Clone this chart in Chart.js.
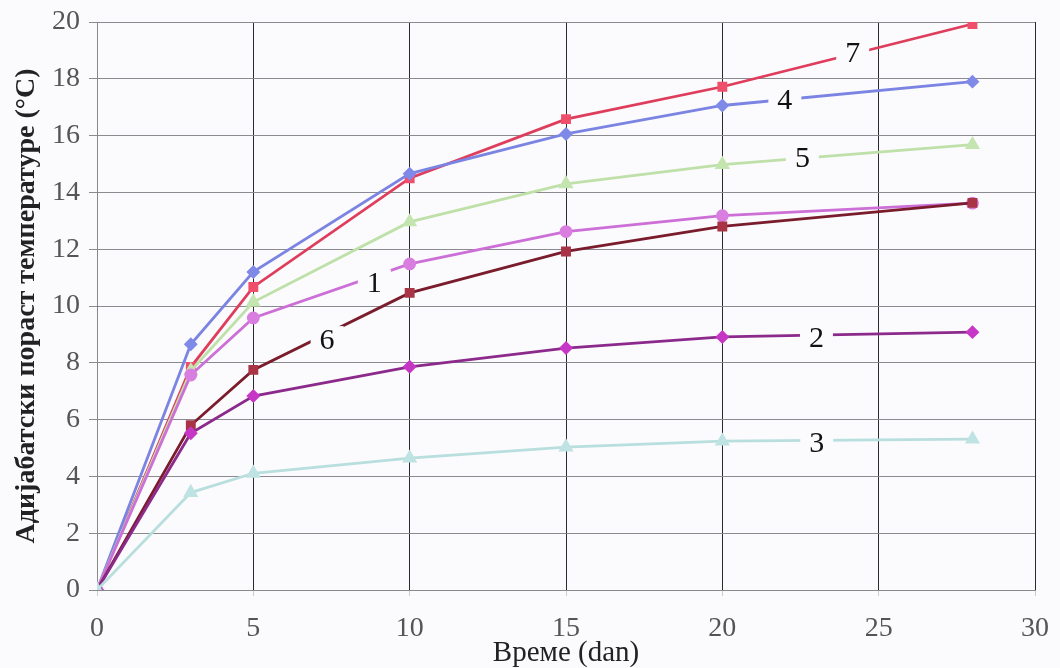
<!DOCTYPE html>
<html>
<head>
<meta charset="utf-8">
<script src="https://cdn.jsdelivr.net/npm/chart.js@4/dist/chart.umd.min.js"></script>
<style>
  html, body { margin: 0; padding: 0; background: #fbfbfd; }
  #wrap { width: 1060px; height: 668px; }
</style>
</head>
<body>
<div id="wrap"><canvas id="chart" width="1060" height="668"></canvas></div>
<script>
// x values (days) shared by every curve
const DAYS = [0, 3, 5, 10, 15, 20, 28];

// adiabatic temperature rise per mix, °C
const MIX_1 = [0, 7.57, 9.58, 11.48, 12.62, 13.18, 13.62];
const MIX_2 = [0, 5.52, 6.83, 7.86, 8.52, 8.91, 9.08];
const MIX_3 = [0, 3.43, 4.11, 4.64, 5.03, 5.24, 5.31];
const MIX_4 = [0, 8.65, 11.2, 14.66, 16.06, 17.06, 17.9];
const MIX_5 = [0, 7.72, 10.14, 12.96, 14.3, 14.98, 15.68];
const MIX_6 = [0, 5.8, 7.75, 10.46, 11.92, 12.8, 13.63];
const MIX_7 = [0, 7.85, 10.67, 14.5, 16.58, 17.72, 19.93];

const X_TICKS = [0, 5, 10, 15, 20, 25, 30];
const Y_TICKS = [0, 2, 4, 6, 8, 10, 12, 14, 16, 18, 20];

// inline curve labels: [text, day, value]
const CURVE_LABELS = [
  ['7', 24.17, 18.91],
  ['4', 22.0, 17.25],
  ['5', 22.56, 15.2],
  ['1', 8.87, 10.8],
  ['6', 7.36, 8.8],
  ['2', 23.01, 8.87],
  ['3', 23.02, 5.17]
];

const SERIF = '"Liberation Serif", "DejaVu Serif", serif';

const pts = vals => DAYS.map((d, i) => ({ x: d, y: vals[i] }));

function ds(label, vals, line, fill, style, r) {
  return {
    label, data: pts(vals),
    borderColor: line, backgroundColor: fill,
    pointBackgroundColor: fill, pointBorderColor: fill,
    pointStyle: style, pointRadius: r, pointHoverRadius: r,
    borderWidth: 2.8, tension: 0, showLine: true
  };
}

const datasets = [
  ds('3', MIX_3, '#b9dede', '#bfe3e3', 'triangle', 6),
  ds('2', MIX_2, '#8c2a8c', '#c637c6', 'rectRot', 5),
  ds('6', MIX_6, '#7a1c2c', '#a83446', 'rect', 5),
  ds('1', MIX_1, '#cc6fd6', '#d97ee0', 'circle', 5),
  ds('5', MIX_5, '#bfe0a8', '#c5e5b0', 'triangle', 6),
  ds('4', MIX_4, '#7b84e2', '#7f8ae8', 'rectRot', 5),
  ds('7', MIX_7, '#de3d5c', '#f04f6c', 'rect', 5)
];

const curveLabels = {
  id: 'curveLabels',
  afterDatasetsDraw(chart) {
    const { ctx, scales: { x, y } } = chart;
    ctx.save();
    ctx.font = '30px ' + SERIF;
    ctx.textAlign = 'center';
    ctx.textBaseline = 'middle';
    CURVE_LABELS.forEach(([t, dx, dy]) => {
      const px = x.getPixelForValue(dx), py = y.getPixelForValue(dy);
      const w = ctx.measureText(t).width;
      ctx.fillStyle = '#fbfbfd';
      ctx.fillRect(px - w / 2 - 9, py - 14, w + 18, 28);
      ctx.fillStyle = '#111';
      ctx.fillText(t, px, py + 1);
    });
    ctx.restore();
  }
};

new Chart(document.getElementById('chart'), {
  type: 'scatter',
  data: { datasets },
  options: {
    responsive: false,
    animation: false,
    layout: { padding: { top: 22, right: 25, bottom: 0, left: 0 } },
    plugins: { legend: { display: false }, tooltip: { enabled: false } },
    scales: {
      x: {
        type: 'linear', min: 0, max: 30,
        afterBuildTicks: s => { s.ticks = X_TICKS.map(v => ({ value: v })); },
        afterFit: s => { s.height = 78; s.paddingLeft = 0; s.paddingRight = 0; },
        grid: { color: '#2a2a30', lineWidth: 1, tickLength: 6, tickColor: '#ccc' },
        border: { color: '#888' },
        ticks: { color: '#555', font: { family: SERIF, size: 28 }, padding: 16, maxRotation: 0 },
        title: { display: true, text: 'Време (dan)', color: '#222', font: { family: SERIF, size: 29, lineHeight: 1 }, padding: { top: 0, bottom: 0 } }
      },
      y: {
        min: 0, max: 20,
        afterBuildTicks: s => { s.ticks = Y_TICKS.map(v => ({ value: v })); },
        afterFit: s => { s.width = 97; s.paddingTop = 0; s.paddingBottom = 0; },
        grid: { color: '#8a8a90', lineWidth: 1, tickLength: 8 },
        border: { color: '#888' },
        ticks: { color: '#555', font: { family: SERIF, size: 28 }, padding: 9 },
        title: { display: true, text: 'Адијабатски пораст температуре (°C)', color: '#222', font: { family: SERIF, size: 28, weight: 'bold' }, padding: { top: 10, bottom: 0 } }
      }
    }
  },
  plugins: [curveLabels]
});
</script>
</body>
</html>
